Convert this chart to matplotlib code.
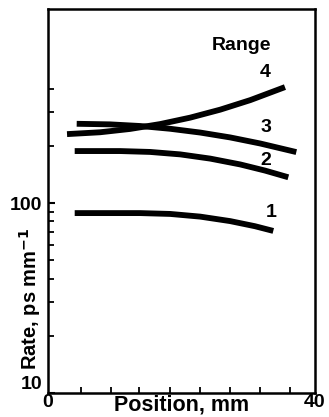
import numpy as np
from matplotlib import pyplot as plt
from matplotlib.ticker import FixedLocator, NullFormatter

# curves: position (mm) vs rate (ps/mm)
x1 = [4.0, 13.8, 18.3, 22.8, 27.3, 31.0, 33.75]
y1 = [88.5, 88.5, 87.6, 84.8, 80.3, 75.5, 71.3]

x2 = [4.0, 10.8, 15.3, 19.8, 24.3, 28.8, 32.5, 36.0]
y2 = [187.7, 187.7, 185.7, 180.3, 171.3, 159.6, 148.2, 136.6]

x3 = [4.3, 9.3, 13.8, 18.3, 22.8, 27.3, 31.8, 37.2]
y3 = [261.2, 259.4, 254.3, 245.9, 234.9, 221.4, 205.7, 185.4]

x4 = [2.85, 7.8, 12.3, 16.8, 21.3, 25.8, 30.3, 35.5]
y4 = [230.5, 235.7, 245.4, 260.3, 281.4, 310, 348, 407.5]

curve_names = ['1', '2', '3', '4']
name_x = [33.4, 32.6, 32.6, 32.5]
name_y = [89, 168, 251, 487]

xticks_minor = [4.9, 9.4, 13.7, 18.3, 22.7, 27.3, 31.8, 36.2]
yticks_minor = [20, 30, 40, 50, 60, 70, 80, 90, 200, 300, 400]

plt.rcParams['font.family'] = ['Liberation Sans', 'DejaVu Sans']
plt.rcParams['font.weight'] = 'bold'
plt.rcParams['mathtext.default'] = 'bf'

fig = plt.figure(figsize=(3.29, 4.17), dpi=100)
ax = fig.add_axes([48/329, 1 - 393/417, 267/329, 384/417])

for xs, ys in [(x1, y1), (x2, y2), (x3, y3), (x4, y4)]:
    ax.plot(xs, ys, color='black', lw=4.2, solid_capstyle='butt', solid_joinstyle='round')

for name, tx, ty in zip(curve_names, name_x, name_y):
    ax.text(tx, ty, name, fontsize=14, ha='center', va='center')
ax.text(29.0, 676, 'Range', fontsize=14, ha='center', va='center')

ax.set_yscale('log')
ax.set_xlim(0, 40)
ax.set_ylim(10, 1050)
ax.set_xticks([0, 40])
ax.set_xticklabels(['0', '40'], fontsize=14)
ax.xaxis.set_minor_locator(FixedLocator(xticks_minor))
ax.set_yticks([10, 100])
ax.set_yticklabels(['10', '100'], fontsize=14)
ax.yaxis.set_minor_locator(FixedLocator(yticks_minor))
ax.yaxis.set_minor_formatter(NullFormatter())
ax.get_yticklabels()[0].set_va('bottom')

ax.tick_params(which='major', direction='in', length=5, width=1.5, pad=4)
ax.tick_params(which='minor', direction='in', length=4, width=1.3)
ax.tick_params(axis='x', which='major', length=0, pad=1)
for sp in ax.spines.values():
    sp.set_linewidth(1.8)

fig.text(182/329, 1 - 405/417, 'Position, mm', fontsize=15.5, ha='center', va='center')
fig.text(30/329, 1 - 299/417, r'Rate, ps mm$^{-1}$', fontsize=14.5, ha='center', va='center',
         rotation=90)

fig.savefig('out.png', dpi=100)
